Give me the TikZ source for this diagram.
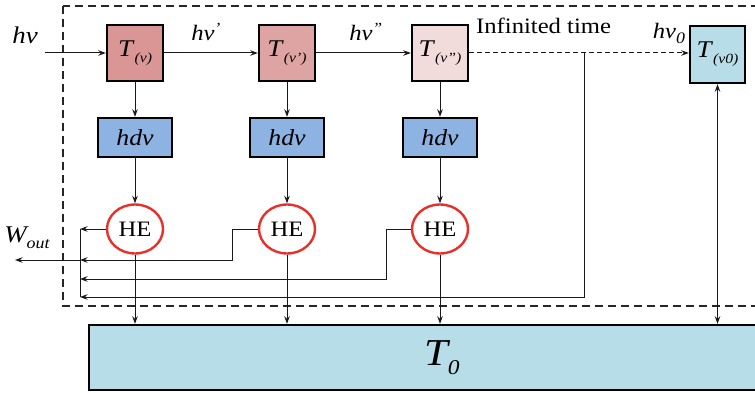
\documentclass[tikz,border=0pt]{standalone}
\usepackage{fontspec}
\setmainfont{Liberation Serif}[FakeStretch=1.12]
\usetikzlibrary{arrows.meta,shapes.geometric,calc}
\definecolor{tred}{HTML}{D99694}
\definecolor{tred2}{HTML}{DEA4A3}
\definecolor{tpink}{HTML}{F2DCDB}
\definecolor{tblue}{HTML}{B7DEE8}
\definecolor{hdvblue}{HTML}{8DB3E2}
\definecolor{hered}{HTML}{E8302A}
\newcommand{\fs}[1]{\fontsize{#1}{#1}\selectfont}
\newcommand{\Tsub}[1]{\textit{T}\raisebox{-6pt}{\fs{14}\itshape(#1)}}
\begin{document}
\begin{tikzpicture}[x=1pt,y=-1pt,
  tbox/.style={draw,line width=2.4pt,minimum width=56pt,minimum height=56pt,inner sep=0pt,font=\fs{24}},
  hdvbox/.style={draw,line width=2.4pt,fill=hdvblue,minimum width=74pt,minimum height=39pt,inner sep=0pt,font=\fs{23}\itshape},
  he/.style={ellipse,draw=hered,line width=2.4pt,fill=white,minimum width=56pt,minimum height=49pt,inner sep=0pt,font=\fs{22}},
  conn/.style={line width=1pt,draw=black!90},
  arr/.style={conn,-{Stealth[length=7.5pt,width=5.5pt]}},
  lab/.style={font=\fs{24}\itshape,inner sep=0pt}
]
\useasboundingbox (0,0) rectangle (755,393);
\draw[line width=2pt,dash pattern=on 8pt off 5pt,draw=black!85] (63,6) rectangle (800,306);

% boxes
\node[tbox,fill=tred] (Tv) at (135,53) {\Tsub{v}};
\node[tbox,fill=tred2] (Tv1) at (287,53) {\Tsub{v’}};
\node[tbox,fill=tpink] (Tv2) at (440,53) {\Tsub{v”}};
\node[tbox,fill=tblue,minimum width=55pt,minimum height=57pt] (Tv0) at (717.5,54.5) {\Tsub{v0}};

\node[hdvbox] (h1) at (135,137.5) {hdv};
\node[hdvbox] (h2) at (287,137.5) {hdv};
\node[hdvbox] (h3) at (440,137.5) {hdv};

\node[he] (HE1) at (135,229) {HE};
\node[he] (HE2) at (287,229) {HE};
\node[he] (HE3) at (440,229) {HE};

\node[draw,line width=2.4pt,fill=tblue,minimum width=706pt,minimum height=65pt,inner sep=0pt,font=\fs{38}\itshape] (T0) at (442,357.5) {T\raisebox{-9pt}{\fs{21}0}};

% coordinates
\coordinate (hvin) at (45,53);
\coordinate (J) at (584,53);
\coordinate (bT) at (80,229);
\coordinate (bB) at (80,297);
\coordinate (k2) at (232,260);
\coordinate (k3) at (386,279);
\coordinate (wout) at (15,260);

% connectors
\draw[arr] (hvin) -- (Tv);
\draw[arr] (Tv) -- (Tv1);
\draw[arr] (Tv1) -- (Tv2);
\draw[arr,dash pattern=on 5pt off 3pt] (Tv2.east) -- (Tv2.east -| Tv0.west);

\foreach \a/\b/\c in {Tv/h1/HE1,Tv1/h2/HE2,Tv2/h3/HE3}{
  \draw[arr] (\a) -- (\b);
  \draw[arr] (\b) -- (\c);
  \draw[arr] (\c) -- (\c |- T0.north);
}

\draw[conn] (bT) -- (bB);
\draw[arr] (HE1.west) -- (HE1.west -| bT);
\draw[arr] (HE2.west) -| (k2) -- (k2 -| bT);
\draw[arr] (HE3.west) -| (k3) -- (k3 -| bT);
\draw[arr] (J) |- (bB);
\draw[arr] (k2 -| bT) -- (wout);
\draw[conn,{Stealth[length=7.5pt,width=5.5pt]}-{Stealth[length=7.5pt,width=5.5pt]}] (Tv0.south) -- (Tv0.south |- T0.north);

% labels
\node[lab] (lhv) at (25,35) {hv};
\node[lab,font=\fs{22}\itshape] (lhv1) at (206,32) {hv\textsuperscript{’}};
\node[lab,font=\fs{22}\itshape] (lhv2) at (366,32) {hv\textsuperscript{”}};
\node[font=\fs{22},anchor=west,inner sep=0pt] (linf) at (476,26) {Infinited time};
\node[lab,font=\fs{22}\itshape] (lhv0) at (669,33) {hv\raisebox{-5pt}{\fs{16}0}};
\node[lab] (lw) at (27,238) {W\raisebox{-6pt}{\fs{16}out}};
\end{tikzpicture}
\end{document}
